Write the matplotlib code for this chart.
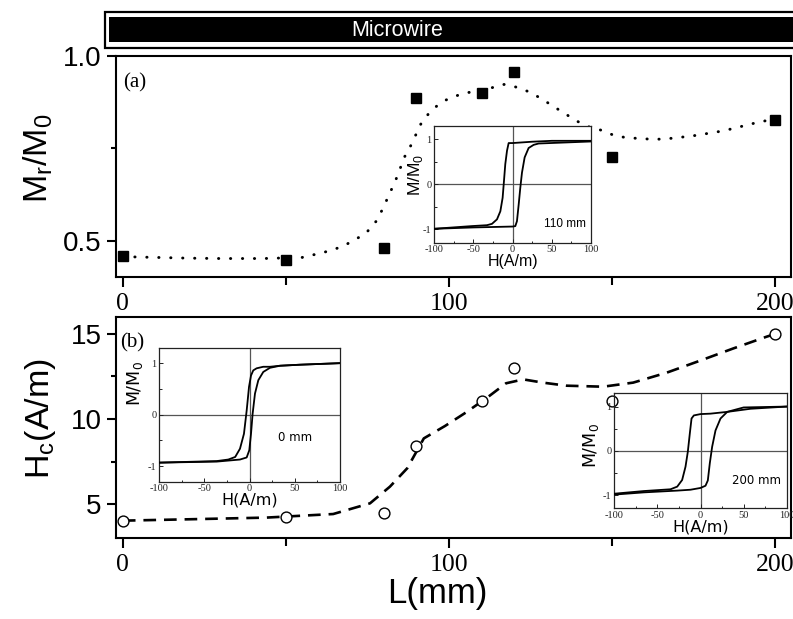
import matplotlib
matplotlib.use('Agg')
import matplotlib.pyplot as plt
from matplotlib.patches import Rectangle
from matplotlib.ticker import FixedLocator

plt.rcParams['font.family'] = ['Liberation Sans', 'DejaVu Sans']
plt.rcParams['axes.unicode_minus'] = False

W, H = 793, 619

# ---------------- data ----------------
L_mm = [0, 50, 80, 90, 110, 120, 150, 200]
Mr_M0 = [0.459, 0.449, 0.480, 0.887, 0.899, 0.958, 0.728, 0.827]
Hc = [4.0, 4.25, 4.49, 8.41, 11.04, 13.0, 11.04, 14.98]

fitA_L = [0, 10, 20, 30, 43, 55, 59.4, 63.5, 67.1, 70.7, 74.7, 77.8, 79.9, 81.7, 83.4,
          85.0, 86.0, 88.0, 91.6, 94.7, 98.3, 102.1, 105.9, 113.1, 116.9, 120.2, 124.3,
          128.1, 131.8, 139.2, 143.0, 146.8, 150.4, 154.3, 158.1, 161.7, 165.4, 169.1,
          172.9, 176.5, 180.3, 183.9, 187.7, 191.3, 195.4, 198.0]
fitA_M = [0.457, 0.455, 0.453, 0.452, 0.452, 0.455, 0.464, 0.473, 0.484, 0.500, 0.522,
          0.554, 0.590, 0.626, 0.658, 0.694, 0.721, 0.752, 0.820, 0.854, 0.878, 0.892,
          0.901, 0.914, 0.923, 0.917, 0.904, 0.886, 0.865, 0.824, 0.808, 0.799, 0.786,
          0.779, 0.777, 0.775, 0.775, 0.778, 0.782, 0.786, 0.792, 0.797, 0.805, 0.813,
          0.822, 0.826]

fitB_L = [0, 20, 44, 64.5, 75.8, 81.9, 87.2, 92.3, 98.8, 105.1, 111.8, 117.5, 122.8,
          128.8, 136, 147.3, 156.5, 166.7, 177, 187.2, 197.4, 200]
fitB_H = [4.02, 4.1, 4.2, 4.41, 5.04, 6.02, 7.1, 8.86, 9.59, 10.37, 11.27, 12.1, 12.33,
          12.14, 11.96, 11.9, 12.14, 12.72, 13.43, 14.15, 14.84, 15.0]

# hysteresis loops (H in A/m, M/M0)
loop110_down_H = [100, 50, 25, 0, -5.1, -7.2, -9.4, -11.1, -12.8, -15.7, -20, -26.4, -32.8, -52, -100]
loop110_down_M = [0.97, 0.97, 0.95, 0.92, 0.92, 0.75, 0.45, 0.07, -0.30, -0.60, -0.78, -0.88, -0.91, -0.93, -0.99]
loop110_up_H = [-100, -50, 0, 3.4, 5.5, 7.7, 9.8, 11.9, 15.3, 20.4, 26.8, 33.2, 100]
loop110_up_M = [-0.99, -0.96, -0.94, -0.93, -0.82, -0.45, -0.07, 0.26, 0.60, 0.81, 0.88, 0.91, 0.955]

loop0_down_H = [100, 55.7, 33.6, 22.5, 15, 7.7, 4, 1.5, -0.7, -3.3, -6.3, -10.7, -16, -23.6, -36.5, -100]
loop0_down_M = [1.0, 0.97, 0.95, 0.93, 0.93, 0.90, 0.86, 0.76, 0.54, 0.08, -0.37, -0.66, -0.82, -0.87, -0.90, -0.93]
loop0_up_H = [-100, -36.5, -10.7, -3.3, -0.4, 1.5, 3.3, 5.9, 9.6, 15.1, 22.5, 33.6, 55.7, 100]
loop0_up_M = [-0.93, -0.91, -0.87, -0.83, -0.69, -0.37, 0.02, 0.41, 0.67, 0.83, 0.91, 0.95, 0.97, 1.0]

loop200_down_H = [100, 58, 31, 11.6, 0, -7.7, -10.4, -12.4, -14.7, -17.4, -21.3, -27, -34.8, -65.7, -100]
loop200_down_M = [1.0, 0.95, 0.88, 0.84, 0.83, 0.80, 0.73, 0.39, -0.02, -0.36, -0.66, -0.81, -0.87, -0.91, -0.97]
loop200_up_H = [-100, -65.7, -27, -11.6, 0, 5.8, 8.5, 10.8, 13.5, 17.4, 23.2, 31, 50, 100]
loop200_up_M = [-0.99, -0.94, -0.90, -0.88, -0.84, -0.79, -0.67, -0.28, 0.09, 0.46, 0.73, 0.88, 0.98, 1.0]

x_major = [0, 100, 200]
x_minor = [50, 150]

# ---------------- figure ----------------
fig = plt.figure(figsize=(W / 100, H / 100), dpi=100)


def axes_px(x0, y0, x1, y1, **kw):
    return fig.add_axes([x0 / W, 1 - y1 / H, (x1 - x0) / W, (y1 - y0) / H], **kw)


# banner
fig.patches.append(Rectangle((105 / W, 1 - 48.3 / H), (800 - 105) / W, (48.3 - 11.7) / H,
                             transform=fig.transFigure, facecolor='white',
                             edgecolor='black', lw=1.6))
fig.patches.append(Rectangle((108.5 / W, 1 - 41.5 / H), (800 - 108.5) / W, (41.5 - 17) / H,
                             transform=fig.transFigure, facecolor='black', lw=0))
fig.text(397 / W, 1 - 30 / H, 'Microwire', color='white', fontsize=15.5,
         ha='center', va='center', family='Liberation Sans')


def style_main(ax):
    for s in ax.spines.values():
        s.set_linewidth(1.5)
    ax.set_xlim(-2.1, 204.9)
    ax.xaxis.set_major_locator(FixedLocator(x_major))
    ax.xaxis.set_minor_locator(FixedLocator(x_minor))
    ax.tick_params(axis='x', which='major', direction='out', length=7, width=1.5,
                   labelsize=18.5, pad=4.5, labelfontfamily='Liberation Serif')
    ax.tick_params(axis='x', which='minor', direction='out', length=5.5, width=1.5)
    ax.tick_params(axis='y', which='major', direction='out', length=6.5, width=1.5,
                   labelsize=20, pad=4)
    ax.tick_params(axis='y', which='minor', direction='out', length=3.5, width=1.5)


axA = axes_px(116, 56, 791, 277)
style_main(axA)
axA.set_ylim(0.402, 1.0)
axA.yaxis.set_major_locator(FixedLocator([0.5, 1.0]))
axA.yaxis.set_minor_locator(FixedLocator([0.75]))
axA.plot(fitA_L, fitA_M, color='black', lw=2.1, linestyle=(0, (0.1, 4.0)),
         dash_capstyle='round', zorder=2)
axA.plot(L_mm, Mr_M0, linestyle='none', marker='s', ms=7.3, color='black', zorder=3,
         clip_on=False)
fig.text(123 / W, 1 - 83 / H, '(a)', fontsize=15, family='Liberation Serif',
         ha='left', va='center')

axB = axes_px(116, 317, 791, 538)
style_main(axB)
axB.set_ylim(3.0, 16.0)
axB.yaxis.set_major_locator(FixedLocator([5, 10, 15]))
axB.yaxis.set_minor_locator(FixedLocator([7.5, 12.5]))
axB.plot(fitB_L, fitB_H, color='black', lw=1.9, linestyle=(0, (4.8, 3.0)), zorder=2)
axB.plot(L_mm, Hc, linestyle='none', marker='o', ms=7.8, mfc='white', mec='black',
         mew=1.0, zorder=3, clip_on=False)
fig.text(120 / W, 1 - 343 / H, '(b)', fontsize=15, family='Liberation Serif',
         ha='left', va='center')

# main axis labels
fig.text(38 / W, 1 - 158 / H, r'M$_\mathregular{r}$/M$_\mathregular{0}$', fontsize=24.5,
         rotation=90, ha='center', va='center')
fig.text(40 / W, 1 - 419 / H, r'H$_\mathregular{c}$(A/m)', fontsize=24.5,
         rotation=90, ha='center', va='center')
fig.text(437 / W, 1 - 594 / H, 'L(mm)', fontsize=25, ha='center', va='center')


def inset(px, down_H, down_M, up_H, up_M, label, label_xy, xl_y, yl_xy, fam, face='white'):
    ax = axes_px(*px, facecolor=face)
    for s in ax.spines.values():
        s.set_linewidth(0.9)
        s.set_color('#222222')
    ax.set_xlim(-100, 100)
    ax.set_ylim(-1.3, 1.3)
    ax.axhline(0, color='#555555', lw=0.9, zorder=1)
    ax.axvline(0, color='#555555', lw=0.9, zorder=1)
    ax.xaxis.set_major_locator(FixedLocator([-100, -50, 0, 50, 100]))
    ax.xaxis.set_minor_locator(FixedLocator([-75, -25, 25, 75]))
    ax.yaxis.set_major_locator(FixedLocator([-1, 0, 1]))
    ax.yaxis.set_minor_locator(FixedLocator([-0.5, 0.5]))
    ax.tick_params(which='major', direction='in', length=3, width=0.7, labelsize=7.5,
                   pad=2, labelfontfamily='Liberation Serif', colors='#222222')
    ax.tick_params(which='minor', direction='in', length=1.8, width=0.6)
    ax.plot(down_H, down_M, color='black', lw=1.3, zorder=3)
    ax.plot(up_H, up_M, color='black', lw=1.3, zorder=3)
    ax.set_xlabel('H(A/m)', fontsize=11.5, family=fam, va='center')
    ax.xaxis.set_label_coords(0.5, xl_y)
    ax.set_ylabel(r'M/M$_\mathregular{0}$', fontsize=12.5, family=fam, va='center')
    ax.yaxis.set_label_coords(*yl_xy)
    ax.text(label_xy[0], label_xy[1], label, transform=ax.transAxes, fontsize=8.5,
            family=fam, ha='center', va='center')
    return ax


inset((434.3, 126, 591, 242.7), loop110_down_H, loop110_down_M, loop110_up_H, loop110_up_M,
      '110 mm', (0.834, 0.16), -0.163, (-0.123, 0.58), 'Liberation Sans')
inset((159.3, 347.7, 340, 481.7), loop0_down_H, loop0_down_M, loop0_up_H, loop0_up_M,
      '0 mm', (0.752, 0.328), -0.137, (-0.137, 0.73), 'DejaVu Sans')
inset((614.3, 393.3, 786.7, 508.3), loop200_down_H, loop200_down_M, loop200_up_H, loop200_up_M,
      '200 mm', (0.822, 0.246), -0.163, (-0.138, 0.546), 'DejaVu Sans', face='none')

fig.savefig('out.png', dpi=100)
